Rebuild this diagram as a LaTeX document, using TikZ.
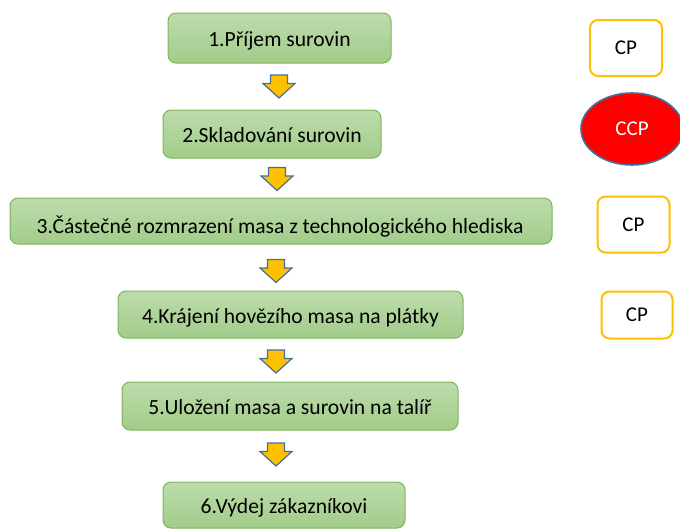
\documentclass[tikz,border=0pt]{standalone}
\usepackage{fontspec}
\setmainfont{Carlito}
\usetikzlibrary{shapes.geometric}
\definecolor{gtop}{HTML}{BDDCAD}
\definecolor{gbot}{HTML}{A2CC89}
\definecolor{gline}{HTML}{7DB55C}
\definecolor{cpline}{HTML}{FFC000}
\definecolor{bline}{HTML}{41719C}
\definecolor{ccpred}{HTML}{FF0000}
\tikzset{
  stepbox/.style={draw=gline, line width=1pt, rounded corners=8pt, top color=gtop, bottom color=gbot,
    font=\fontsize{21.6}{25}\selectfont, text=black, inner sep=0pt, text height=22pt, text depth=5pt},
  cpbox/.style={draw=cpline, line width=2pt, rounded corners=8pt, fill=white,
    font=\fontsize{21}{25}\selectfont, inner sep=0pt},
  ccp/.style={ellipse, draw=bline, line width=1.6pt, fill=ccpred, text=white,
    font=\fontsize{21}{25}\selectfont, inner sep=0pt},
  arrowstyle/.style={draw=bline, line width=1.2pt, fill=cpline, line join=miter},
  darr/.pic={\path[arrowstyle] (-8.5,-11.5) -- (8.5,-11.5) -- (8.5,-3) -- (16,-3) -- (0,11.5) -- (-16,-3) -- (-8.5,-3) -- cycle;}
}
\begin{document}
\begin{tikzpicture}[x=1pt,y=-1pt]
\useasboundingbox (0,0) rectangle (680,530);
% steps
\node[stepbox, minimum width=223, minimum height=50] (s1) at (279.5,38) {1.Příjem surovin};
\node[stepbox, minimum width=218, minimum height=48] (s2) at (272,134) {2.Skladování surovin};
\node[stepbox, minimum width=542, minimum height=46] (s3) at (281,221) {};
\begin{scope}
\clip (10,198) rectangle (552,243);
\node[font=\fontsize{21.6}{25}\selectfont, inner sep=0pt] (s3t) at (280,227) {3.Částečné rozmrazení masa z technologického hlediska};
\end{scope}
\node[stepbox, minimum width=345, minimum height=47] (s4) at (290.5,314.5) {4.Krájení hovězího masa na plátky};
\node[stepbox, minimum width=336, minimum height=48] (s5) at (290,406) {5.Uložení masa a surovin na talíř};
\node[stepbox, minimum width=242, minimum height=46] (s6) at (284,505) {6.Výdej zákazníkovi};
% arrows
\pic at (279,86.5) {darr};
\pic at (277,179) {darr};
\pic at (276,271) {darr};
\pic at (276,361.5) {darr};
\pic at (276,454.5) {darr};
% control points
\node[cpbox, minimum width=72, minimum height=56] (c1) at (626,48) {CP};
\node[ccp, minimum width=102, minimum height=72] (c2) at (632,129) {CCP};
\node[cpbox, minimum width=72, minimum height=56] (c3) at (633.5,224.5) {CP};
\node[cpbox, minimum width=71, minimum height=47] (c4) at (637,315) {CP};
\end{tikzpicture}
\end{document}
